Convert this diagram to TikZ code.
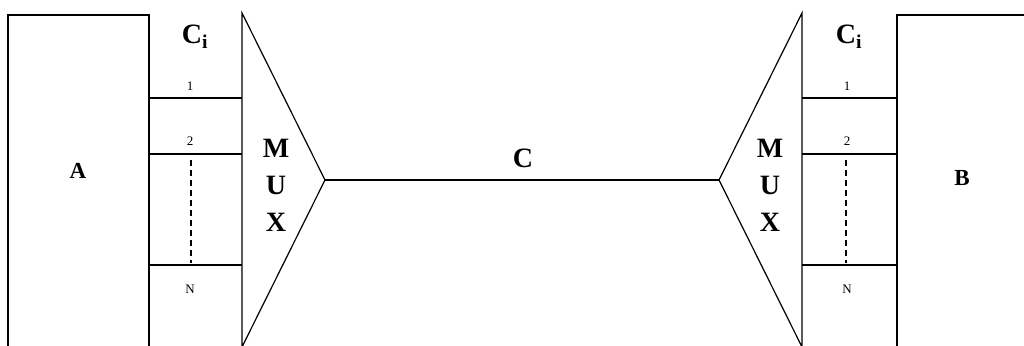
\documentclass[tikz,border=0pt]{standalone}
\usepackage{fontspec}
\setmainfont{Liberation Serif}
\begin{document}
\begin{tikzpicture}[x=1pt,y=-1pt,line width=1.2pt,
  big/.style={font=\fontsize{28}{37}\selectfont\bfseries,inner sep=0pt},
  mid/.style={font=\fontsize{23}{24}\selectfont\bfseries,inner sep=0pt},
  small/.style={font=\fontsize{13}{14}\selectfont,inner sep=0pt},
  chan/.style={line width=1.2pt},
  dots/.style={dashed,line width=1.1pt,dash pattern=on 6pt off 4pt}]
\useasboundingbox (0,0) rectangle (1024,345);
\begin{scope}
\clip (0,0) rectangle (1024,345);
% boxes
\draw (8,350) -- (8,15) -- (149,15) -- (149,350);
\draw (897,350) -- (897,15) -- (1030,15);
% multiplexers
\coordinate (lapex) at (325,180);
\coordinate (rapex) at (719,180);
\draw (242,350) -- (242,13) -- (lapex) -- (242,347);
\draw (802,350) -- (802,13) -- (rapex) -- (802,347);
\end{scope}
% trunk
\draw (lapex) -- (rapex);
\node[big] (C) at (523,158) {C};
% channels
\foreach \y/\n in {98/a1,154/a2,265/aN}{
  \coordinate (\n l) at (149,\y); \coordinate (\n r) at (242,\y);
  \draw[chan] (\n l) -- (\n r);
  \coordinate (\n L) at (802,\y); \coordinate (\n R) at (897,\y);
  \draw[chan] (\n L) -- (\n R);
}
\coordinate (ldt) at (191,160); \coordinate (ldb) at (191,263);
\draw[dots] (ldt) -- (ldb);
\coordinate (rdt) at (846,160); \coordinate (rdb) at (846,263);
\draw[dots] (rdt) -- (rdb);
% labels
\node[small] (l1) at (190,86) {1};
\node[small] (l2) at (190,141) {2};
\node[small] (lN) at (190,289) {N};
\node[small] (r1) at (847,86) {1};
\node[small] (r2) at (847,141) {2};
\node[small] (rN) at (847,289) {N};
\node[big] (lCi) at (195,37) {C\textsubscript{\bfseries i}};
\node[big] (rCi) at (849,37) {C\textsubscript{\bfseries i}};
\node[big,align=center] (lmux) at (276,185) {M\\U\\X};
\node[big,align=center] (rmux) at (770,185) {M\\U\\X};
\node[mid] (A) at (78,171) {A};
\node[mid] (B) at (962,178) {B};
\end{tikzpicture}
\end{document}
